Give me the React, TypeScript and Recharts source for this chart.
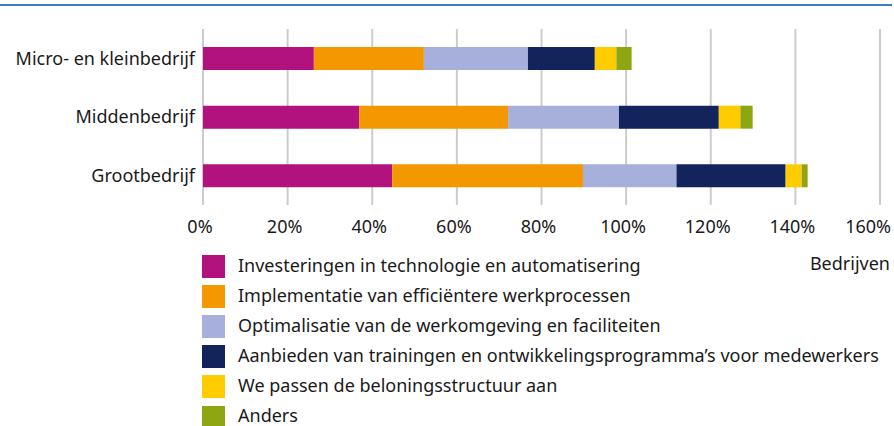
import React from 'react';
import { BarChart, Bar, XAxis, YAxis, CartesianGrid } from 'recharts';

const categories = ['Micro- en kleinbedrijf', 'Middenbedrijf', 'Grootbedrijf'];
const investeringen = [26.2, 36.9, 44.7];
const implementatie = [26.0, 35.2, 45.1];
const optimalisatie = [24.6, 26.2, 22.1];
const trainingen = [15.8, 23.6, 25.8];
const beloning = [5.1, 5.1, 3.8];
const anders = [3.6, 2.9, 1.4];
const xTicks = [0, 20, 40, 60, 80, 100, 120, 140, 160];
const axisUnitLabel = 'Bedrijven';

const seriesNames = [
  'Investeringen in technologie en automatisering',
  'Implementatie van efficiëntere werkprocessen',
  'Optimalisatie van de werkomgeving en faciliteiten',
  'Aanbieden van trainingen en ontwikkelingsprogramma’s voor medewerkers',
  'We passen de beloningsstructuur aan',
  'Anders',
];
const seriesColors = ['#b2127e', '#f39800', '#a6b0da', '#13235b', '#ffcc00', '#8fa613'];
const seriesValues = [investeringen, implementatie, optimalisatie, trainingen, beloning, anders];
const keys = ['s0', 's1', 's2', 's3', 's4', 's5'];

const data = categories.map((c, i) => {
  const row: Record<string, string | number> = { name: c };
  seriesValues.forEach((vals, k) => {
    row[keys[k]] = vals[i];
  });
  return row;
});

const FONT = '"Noto Sans", sans-serif';
const TEXT = '#1a1a1a';
const W = 894;

const XTick = (props: any) => {
  const { x, y, payload } = props;
  const isLast = payload.value === xTicks[xTicks.length - 1];
  return (
    <text
      x={isLast ? W - 3 : x - 3}
      y={y}
      dy="0.71em"
      textAnchor={isLast ? 'end' : 'middle'}
      fill={TEXT}
      fontSize={18}
      fontFamily={FONT}
    >
      {`${payload.value}%`}
    </text>
  );
};

export default function App() {
  return (
    <div style={{ position: 'absolute', left: 0, top: 0, width: W, height: 426, fontFamily: FONT, background: '#fff', overflow: 'hidden' }}>
      <div style={{ position: 'absolute', left: 0, top: 4, width: 892, height: 2, background: '#3f7bc2' }} />
      <BarChart
        width={W}
        height={426}
        data={data}
        layout="vertical"
        margin={{ top: 29, right: 14, bottom: 0, left: 0 }}
        barCategoryGap={0}
      >
        <CartesianGrid horizontal={false} vertical stroke="#cccccc" strokeWidth={2} />
        <XAxis
          type="number"
          domain={[0, 160]}
          ticks={xTicks}
          axisLine={false}
          tickLine={false}
          height={221}
          tick={<XTick />}
          tickMargin={9}
          interval={0}
        />
        <YAxis
          type="category"
          dataKey="name"
          width={203}
          axisLine={false}
          tickLine={false}
          tickMargin={2}
          tick={{ fill: TEXT, fontSize: 18, fontFamily: FONT }}
        />
        {keys.map((k, i) => (
          <Bar key={k} dataKey={k} stackId="a" fill={seriesColors[i]} barSize={23} isAnimationActive={false} />
        ))}
      </BarChart>
      <div style={{ position: 'absolute', right: 4, top: 250, fontSize: 18, color: TEXT, lineHeight: '26px' }}>{axisUnitLabel}</div>
      <div style={{ position: 'absolute', left: 202, top: 251.5 }}>
        {seriesNames.map((n, i) => (
          <div key={n} style={{ display: 'flex', alignItems: 'center', height: 30.1 }}>
            <div style={{ width: 23, height: 23, background: seriesColors[i], flex: 'none' }} />
            <div style={{ marginLeft: 13, fontSize: 18, color: TEXT, whiteSpace: 'nowrap', lineHeight: '18px', position: 'relative', top: -2 }}>{n}</div>
          </div>
        ))}
      </div>
    </div>
  );
}
